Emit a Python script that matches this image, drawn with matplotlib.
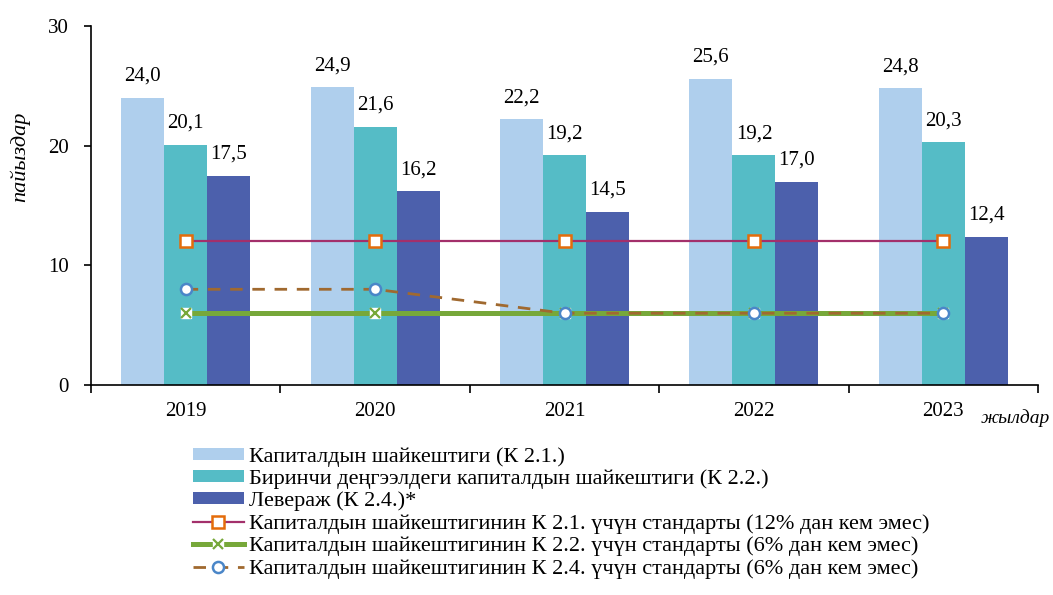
import numpy as np
import matplotlib.pyplot as plt

plt.rcParams['font.family'] = ['Liberation Serif', 'DejaVu Serif']

# ---- data ----
years = ['2019', '2020', '2021', '2022', '2023']
k21 = [24.0, 24.9, 22.2, 25.6, 24.8]
k22 = [20.1, 21.6, 19.2, 19.2, 20.3]
k24 = [17.5, 16.2, 14.5, 17.0, 12.4]
std21 = [12, 12, 12, 12, 12]
std22 = [6, 6, 6, 6, 6]
std24 = [8, 8, 6, 6, 6]

labels = [
    'Капиталдын шайкештиги (К 2.1.)',
    'Биринчи деңгээлдеги капиталдын шайкештиги (К 2.2.)',
    'Левераж (К 2.4.)*',
    'Капиталдын шайкештигинин К 2.1. үчүн стандарты (12% дан кем эмес)',
    'Капиталдын шайкештигинин К 2.2. үчүн стандарты (6% дан кем эмес)',
    'Капиталдын шайкештигинин К 2.4. үчүн стандарты (6% дан кем эмес)',
]

fig = plt.figure(figsize=(10.53, 5.95), dpi=100)
ax = fig.add_axes([0.0864, 0.353, 0.8994, 0.603])

x = np.arange(len(years))
w = 0.227
bars = []
for off, vals, col, lab in [(-w, k21, '#AFCFED', labels[0]),
                            (0, k22, '#55BCC6', labels[1]),
                            (w, k24, '#4C60AC', labels[2])]:
    b = ax.bar(x + off, vals, w, color=col, label=lab, zorder=2)
    bars.append(b)
    for xi, v in zip(x + off, vals):
        ax.text(xi, v + 1.0, f'{v:.1f}'.replace('.', ','), ha='center',
                va='bottom', fontsize=15)

# standards (lines)
l1, = ax.plot(x, std21, color='#A3306B', lw=1.6, marker='s', ms=8,
              mfc='white', mec='#E46C0A', mew=1.8, zorder=3)
l2, = ax.plot(x, std22, color='#77A83A', lw=3.6, zorder=3)
sq, = ax.plot(x, std22, ls='none', marker='s', ms=7.5, mfc='white',
              mec='white', zorder=3.5)
xm, = ax.plot(x, std22, ls='none', marker='x', ms=7, mec='#77A83A',
              mew=1.6, zorder=3.6)
l3, = ax.plot(x, std24, color='#A0692F', lw=2.0, ls=(0, (4.5, 3.5)),
              marker='o', ms=8, mfc='white', mec='#4A86C8', mew=1.8, zorder=4)

ax.set_xlim(-0.5, len(years) - 0.5)
ax.set_ylim(0, 30)
ax.set_yticks([0, 10, 20, 30])
ax.set_xticks(x)
ax.set_xticklabels(years)
ax.set_xticks(np.arange(-0.5, len(years)), minor=True)
ax.tick_params(axis='x', which='major', length=0, labelsize=15, pad=12)
ax.tick_params(axis='x', which='minor', length=6, width=1.2, direction='out')
ax.tick_params(axis='y', length=5, width=1.2, labelsize=15, pad=11)
for s in ['top', 'right']:
    ax.spines[s].set_visible(False)
for s in ['left', 'bottom']:
    ax.spines[s].set_linewidth(1.2)

fig.text(0.019, 0.736, 'пайыздар', rotation=90, style='italic', fontsize=16,
         ha='center', va='center')
fig.text(0.931, 0.297, 'жылдар', style='italic', fontsize=14, ha='left',
         va='center')

fig.legend(handles=[bars[0], bars[1], bars[2], l1, (l2, sq, xm), l3],
           labels=labels, loc='upper left', bbox_to_anchor=(0.183, 0.249),
           frameon=False, fontsize=16, handlelength=2.3, handleheight=0.45,
           handletextpad=0.25, labelspacing=0.12, borderaxespad=0, borderpad=0)

fig.savefig('out.png', dpi=100)
